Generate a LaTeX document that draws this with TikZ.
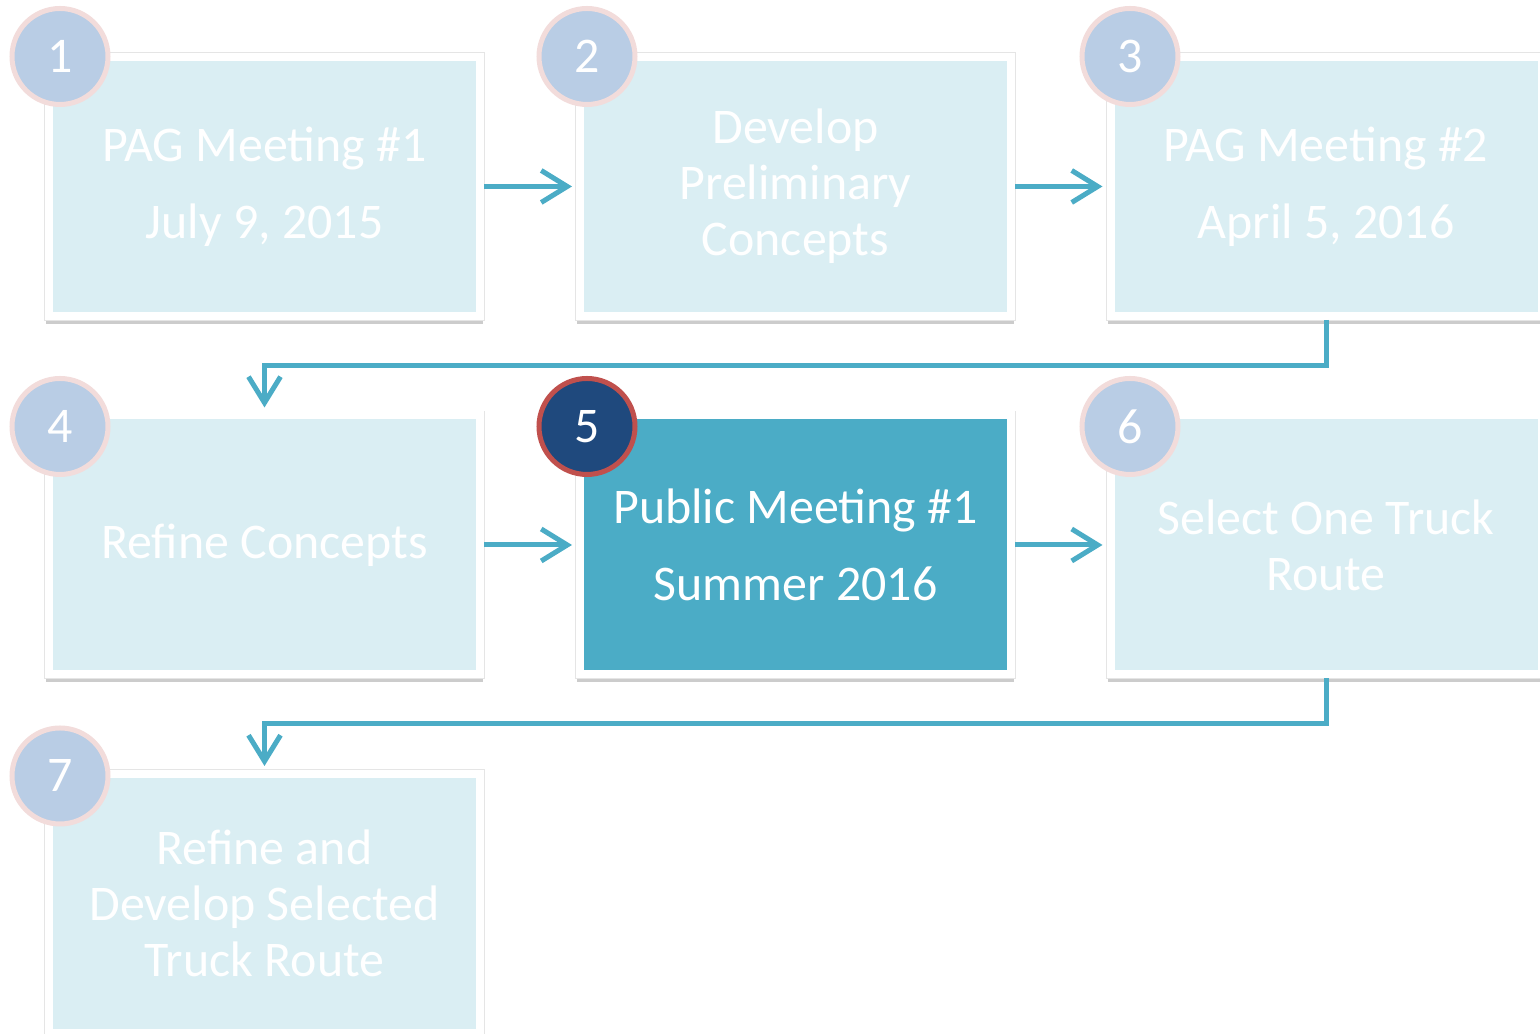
\documentclass[tikz,border=0pt]{standalone}
\usepackage{fontspec}
\setmainfont{Carlito}
\usepackage[HTML]{xcolor}
\usepackage{tikz}
\usetikzlibrary{positioning, arrows.meta, shadows}

\definecolor{stepfill}{HTML}{DAEEF3}
\definecolor{stephi}{HTML}{4BACC6}
\definecolor{numfill}{HTML}{B9CDE5}
\definecolor{numring}{HTML}{F2DCDB}
\definecolor{numhi}{HTML}{1F497D}
\definecolor{ringhi}{HTML}{C0504D}
\definecolor{linkcol}{HTML}{4BACC6}

\tikzset{
  stepbox/.style={rectangle, fill=stepfill, draw=white, line width=0.08cm,
    minimum width=4.31cm, minimum height=2.59cm, inner sep=0pt, align=center,
    text=white, font=\fontsize{14.2}{15.9}\selectfont,
    drop shadow={shadow xshift=0cm, shadow yshift=-0.06cm, shadow scale=1.012, opacity=0.4},
    preaction={draw=black!10, line width=0.095cm}},
  stephl/.style={stepbox, fill=stephi},
  numdot/.style={circle, fill=numfill, draw=numring, line width=0.05cm,
    minimum size=0.96cm, inner sep=0pt, text=white,
    font=\fontsize{14.2}{15.9}\selectfont},
  numhl/.style={numdot, fill=numhi, draw=ringhi},
  link/.style={draw=linkcol, line width=0.05cm,
    -{Straight Barb[length=0.26cm, width=0.32cm]}, shorten >=0.04cm},
}

\begin{document}
\begin{tikzpicture}
\useasboundingbox (0,0) rectangle (15.40,10.34);

\node[stepbox] (b1) at (2.645,8.475) {PAG Meeting \#1\\[6pt] July 9, 2015};
\node[stepbox] (b2) at (7.955,8.475) {Develop\\ Preliminary\\ Concepts};
\node[stepbox] (b3) at (13.26,8.475) {PAG Meeting \#2\\[6pt] April 5, 2016};
\node[stepbox] (b4) at (2.645,4.89)  {Refine Concepts};
\node[stephl]  (b5) at (7.955,4.89)  {Public Meeting \#1\\[6pt] Summer 2016};
\node[stepbox] (b6) at (13.26,4.89)  {Select One Truck\\ Route};
\node[stepbox] (b7) at (2.645,1.305) {Refine and\\ Develop Selected\\ Truck Route};

\draw[link] (b1) -- (b2);
\draw[link] (b2) -- (b3);
\draw[link] (b3.south) -- ++(0,-0.46) -| (b4.north);
\draw[link] (b4) -- (b5);
\draw[link] (b5) -- (b6);
\draw[link] (b6.south) -- ++(0,-0.45) -| (b7.north);

\node[numdot] (n1) at (0.60,9.775)  {1};
\node[numdot] (n2) at (5.87,9.775)  {2};
\node[numdot] (n3) at (11.30,9.775) {3};
\node[numdot] (n4) at (0.60,6.075)  {4};
\node[numhl]  (n5) at (5.87,6.075)  {5};
\node[numdot] (n6) at (11.30,6.075) {6};
\node[numdot] (n7) at (0.60,2.58)   {7};
\end{tikzpicture}
\end{document}
